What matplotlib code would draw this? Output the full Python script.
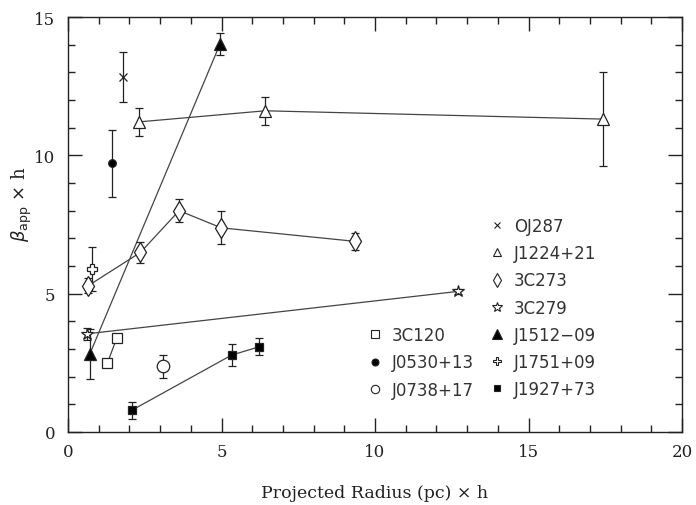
import matplotlib
matplotlib.use("Agg")
import matplotlib.pyplot as plt
from matplotlib.lines import Line2D

# ---- data ----
oj287_x = [1.79]; oj287_y = [12.83]; oj287_e = [0.9]
j1224_x = [2.32, 6.42, 17.42]; j1224_y = [11.21, 11.61, 11.31]; j1224_e = [0.5, 0.5, 1.7]
c3c273_x = [0.66, 2.36, 3.62, 4.99, 9.36]; c3c273_y = [5.29, 6.49, 8.0, 7.38, 6.89]
c3c273_e = [0.28, 0.38, 0.42, 0.6, 0.3]
c3c279_x = [0.63, 12.69]; c3c279_y = [3.55, 5.08]; c3c279_e = [0.22, 0.08]
j1512_x = [0.71, 4.95]; j1512_y = [2.82, 14.02]; j1512_e = [0.92, 0.41]
j1751_x = [0.79]; j1751_y = [5.89]; j1751_e = [0.8]
j1927_x = [2.07, 5.33, 6.23]; j1927_y = [0.78, 2.78, 3.08]; j1927_e = [0.3, 0.4, 0.31]
c3c120_x = [1.28, 1.59]; c3c120_y = [2.48, 3.40]; c3c120_e = [0.08, 0.1]
j0530_x = [1.42]; j0530_y = [9.71]; j0530_e = [1.2]
j0738_x = [3.10]; j0738_y = [2.38]; j0738_e = [0.42]

xticks = [0, 5, 10, 15, 20]
yticks = [0, 5, 10, 15]

fig = plt.figure(figsize=(6.96, 5.06), dpi=100)
ax = fig.add_axes([68/696, 73/506, 614/696, 415/506])

LC = '#444444'
def series(x, y, e, marker, label, filled=False, ms=8, lms=5):
    ax.errorbar(x, y, yerr=e, fmt='none', ecolor='#222222', elinewidth=0.9,
                capsize=3, capthick=0.9, zorder=2)
    if len(x) > 1:
        ax.plot(x, y, '-', color=LC, lw=0.9, zorder=1)
    fc = 'black' if filled else 'white'
    ax.plot(x, y, linestyle='none', marker=marker, ms=ms, mfc=fc, mec='#222222',
            mew=0.9, zorder=3)
    return Line2D([], [], linestyle='none', marker=marker, ms=lms,
                  mfc=fc, mec='#222222', mew=0.8, label=label)

h_oj = series(oj287_x, oj287_y, oj287_e, 'x', 'OJ287', ms=6, lms=5)
h_1224 = series(j1224_x, j1224_y, j1224_e, '^', 'J1224+21', ms=9, lms=6)
h_273 = series(c3c273_x, c3c273_y, c3c273_e, 'd', '3C273', ms=10, lms=7)
h_279 = series(c3c279_x, c3c279_y, c3c279_e, '*', '3C279', ms=9, lms=7)
h_1512 = series(j1512_x, j1512_y, j1512_e, '^', 'J1512\u221209', filled=True, ms=9, lms=7)
h_1751 = series(j1751_x, j1751_y, j1751_e, 'P', 'J1751+09', ms=7, lms=6)
h_1927 = series(j1927_x, j1927_y, j1927_e, 's', 'J1927+73', filled=True, ms=5.5, lms=5)
h_120 = series(c3c120_x, c3c120_y, c3c120_e, 's', '3C120', ms=7.5, lms=6)
h_0530 = series(j0530_x, j0530_y, j0530_e, 'o', 'J0530+13', filled=True, ms=5.5, lms=5)
h_0738 = series(j0738_x, j0738_y, j0738_e, 'o', 'J0738+17', ms=9, lms=6)

ax.set_xlim(0, 20)
ax.set_ylim(0, 15)
ax.set_xticks(xticks)
ax.set_yticks(yticks)
ax.set_xticks(range(0, 21), minor=True)
ax.set_yticks(range(0, 16), minor=True)
ax.tick_params(which='both', direction='in', top=True, right=True, color='#222222')
ax.tick_params(which='major', length=10, width=1)
ax.tick_params(which='minor', length=5, width=1)
for s in ax.spines.values():
    s.set_linewidth(1.0)
    s.set_color('#222222')

serif = 'DejaVu Serif'
for lab in ax.get_xticklabels() + ax.get_yticklabels():
    lab.set_family(serif)
    lab.set_fontsize(12)
    lab.set_color('#222222')
ax.tick_params(axis='x', pad=8)
ax.tick_params(axis='y', pad=9)

ax.set_xlabel('Projected Radius (pc) \u00d7 h', family=serif, fontsize=12.5,
              color='#222222')
ax.xaxis.set_label_coords(0.5, -0.125)
ax.set_ylabel(r'$\beta_{\rm app}$ $\times$ h', family=serif, fontsize=13,
              color='#222222')
ax.yaxis.set_label_coords(-0.055, 0.55)

leg1 = ax.legend(handles=[h_oj, h_1224, h_273, h_279, h_1512, h_1751, h_1927],
                 loc='upper left', bbox_to_anchor=(0.677, 0.538), frameon=False,
                 fontsize=12, handlelength=0.6, handletextpad=0.7,
                 labelspacing=0.55, borderpad=0)
for t in leg1.get_texts():
    t.set_color('#333333')
ax.add_artist(leg1)
leg2 = ax.legend(handles=[h_120, h_0530, h_0738],
                 loc='upper left', bbox_to_anchor=(0.478, 0.275), frameon=False,
                 fontsize=12, handlelength=0.6, handletextpad=0.7,
                 labelspacing=0.55, borderpad=0)
for t in leg2.get_texts():
    t.set_color('#333333')

fig.savefig('out.png', dpi=100)
